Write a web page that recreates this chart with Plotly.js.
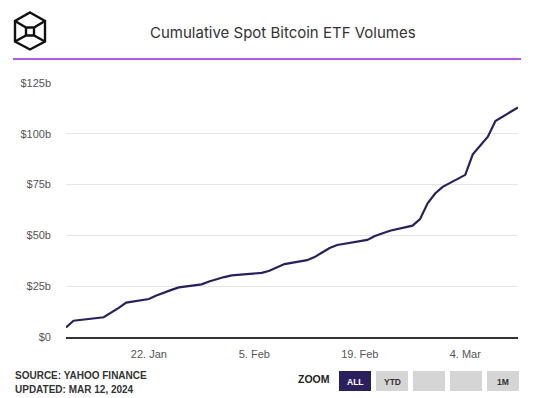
<!DOCTYPE html>
<html>
<head>
<meta charset="utf-8">
<script src="https://cdn.plot.ly/plotly-3.0.1.min.js"></script>
<style>
  html, body { margin: 0; padding: 0; background: #fff; }
  #chart { width: 538px; height: 398px; }
</style>
</head>
<body>
<div id="chart"></div>
<script>
// ---- Data ----
const dates = ['2024-01-11','2024-01-12','2024-01-16','2024-01-17','2024-01-18','2024-01-19',
  '2024-01-22','2024-01-23','2024-01-24','2024-01-25','2024-01-26',
  '2024-01-29','2024-01-30','2024-01-31','2024-02-01','2024-02-02',
  '2024-02-05','2024-02-06','2024-02-07','2024-02-08','2024-02-09',
  '2024-02-12','2024-02-13','2024-02-14','2024-02-15','2024-02-16',
  '2024-02-20','2024-02-21','2024-02-22','2024-02-23',
  '2024-02-26','2024-02-27','2024-02-28','2024-02-29','2024-03-01',
  '2024-03-04','2024-03-05','2024-03-06','2024-03-07','2024-03-08',
  '2024-03-11'];
const cumulativeVolume = [4.7, 8.0, 9.7, 11.9, 14.3, 16.9,
  18.7, 20.4, 21.9, 23.2, 24.4,
  25.9, 27.3, 28.5, 29.5, 30.3,
  31.1, 31.6, 32.6, 34.3, 35.9,
  37.8, 39.3, 41.6, 43.8, 45.3,
  47.8, 49.7, 51.1, 52.3,
  54.8, 58.0, 65.8, 70.6, 73.9,
  79.8, 89.9, 94.2, 98.6, 106.3,
  113.0];
const yTickVals = [0, 25, 50, 75, 100, 125];
const yTickText = ['$0', '$25b', '$50b', '$75b', '$100b', '$125b'];
const xTickVals = ['2024-01-22', '2024-02-05', '2024-02-19', '2024-03-04'];
const xTickText = ['22. Jan', '5. Feb', '19. Feb', '4. Mar'];
const zoomButtons = ['ALL', 'YTD', '', '', '1M'];
const titleText = 'Cumulative Spot Bitcoin ETF Volumes';
const sourceLines = ['SOURCE: YAHOO FINANCE', 'UPDATED: MAR 12, 2024'];

// ---- Geometry helpers (page pixels -> paper coords) ----
const L = 66, T = 83, W = 452, H = 254;
const px = x => (x - L) / W;
const py = y => (T + H - y) / H;

const shapes = [];
const annotations = [];

// purple rule under header
shapes.push({type: 'line', xref: 'paper', yref: 'paper',
  x0: px(13), x1: px(521), y0: py(59), y1: py(59),
  line: {color: '#9327d4', width: 1.5}});

// logo (cube outline)
const logoPath = (pts, close) => pts.map((p, i) => (i ? 'L' : 'M') + px(p[0]) + ',' + py(p[1])).join(' ') + (close ? ' Z' : '');
const logoStyle = {color: '#111', width: 2.4};
shapes.push({type: 'path', xref: 'paper', yref: 'paper', line: logoStyle,
  path: logoPath([[30,12.5],[45,21],[45,41.5],[30,49.5],[15,41.5],[15,21]], true)});
shapes.push({type: 'path', xref: 'paper', yref: 'paper', line: logoStyle,
  path: logoPath([[15,21],[26,27.5],[34,27.5],[45,21]], false)});
shapes.push({type: 'path', xref: 'paper', yref: 'paper', line: logoStyle,
  path: logoPath([[15,41.5],[26,35.5],[34,35.5],[45,41.5]], false)});
shapes.push({type: 'path', xref: 'paper', yref: 'paper', line: logoStyle,
  path: logoPath([[26,27.5],[26,35.5]], false)});
shapes.push({type: 'path', xref: 'paper', yref: 'paper', line: logoStyle,
  path: logoPath([[34,27.5],[34,35.5]], false)});

// title
annotations.push({xref: 'paper', yref: 'paper', x: px(283), y: py(33),
  xanchor: 'center', yanchor: 'middle', showarrow: false, text: titleText,
  font: {family: 'Inter, Roboto, sans-serif', size: 15, color: '#333'}});

// source lines
sourceLines.forEach((t, i) => annotations.push({xref: 'paper', yref: 'paper',
  x: px(13), y: py(375.5 + i * 13.5), xanchor: 'left', yanchor: 'middle', showarrow: false,
  text: '<b>' + t + '</b>', font: {family: 'Liberation Sans, Arial, sans-serif', size: 10, color: '#333'}}));

// zoom label
annotations.push({xref: 'paper', yref: 'paper', x: px(314), y: py(379),
  xanchor: 'center', yanchor: 'middle', showarrow: false, text: '<b>ZOOM</b>',
  font: {family: 'Liberation Sans, Arial, sans-serif', size: 10.5, color: '#222'}});

// zoom buttons
const btnX0 = 339, btnW = 32, btnGap = 5, btnY0 = 371, btnY1 = 391;
zoomButtons.forEach((lab, i) => {
  const x0 = btnX0 + i * (btnW + btnGap), x1 = x0 + btnW;
  const active = i === 0;
  shapes.push({type: 'rect', xref: 'paper', yref: 'paper',
    x0: px(x0), x1: px(x1), y0: py(btnY1), y1: py(btnY0),
    fillcolor: active ? '#2b1f5e' : '#d5d5d5', line: {width: 0}});
  if (lab) annotations.push({xref: 'paper', yref: 'paper', x: px((x0 + x1) / 2), y: py(381.5),
    xanchor: 'center', yanchor: 'middle', showarrow: false, text: '<b>' + lab + '</b>',
    font: {family: 'Liberation Sans, Arial, sans-serif', size: 8.5, color: active ? '#fff' : '#333'}});
});

const trace = {
  x: dates, y: cumulativeVolume, type: 'scatter', mode: 'lines',
  line: {color: '#2b1f5e', width: 2.2}, hoverinfo: 'skip'
};

const layout = {
  width: 538, height: 398,
  margin: {l: L, r: 538 - L - W, t: T, b: 398 - T - H, pad: 0},
  paper_bgcolor: '#fff', plot_bgcolor: '#fff',
  showlegend: false,
  xaxis: {
    type: 'date', range: ['2024-01-11', '2024-03-11'],
    tickmode: 'array', tickvals: xTickVals, ticktext: xTickText,
    showgrid: false, zeroline: false,
    showline: true, linecolor: '#333', linewidth: 1.5,
    ticks: '', ticklabelstandoff: 6,
    tickfont: {family: 'Liberation Sans, Arial, sans-serif', size: 11, color: '#555'},
    fixedrange: true
  },
  yaxis: {
    range: [0, 125], tickmode: 'array', tickvals: yTickVals, ticktext: yTickText,
    showgrid: true, gridcolor: '#e6e6e6', gridwidth: 1,
    zeroline: false, showline: false, ticks: '', ticklabelstandoff: 14,
    tickfont: {family: 'Liberation Sans, Arial, sans-serif', size: 11, color: '#555'},
    fixedrange: true
  },
  shapes: shapes,
  annotations: annotations
};

Plotly.newPlot('chart', [trace], layout, {displayModeBar: false, staticPlot: true});
</script>
</body>
</html>
